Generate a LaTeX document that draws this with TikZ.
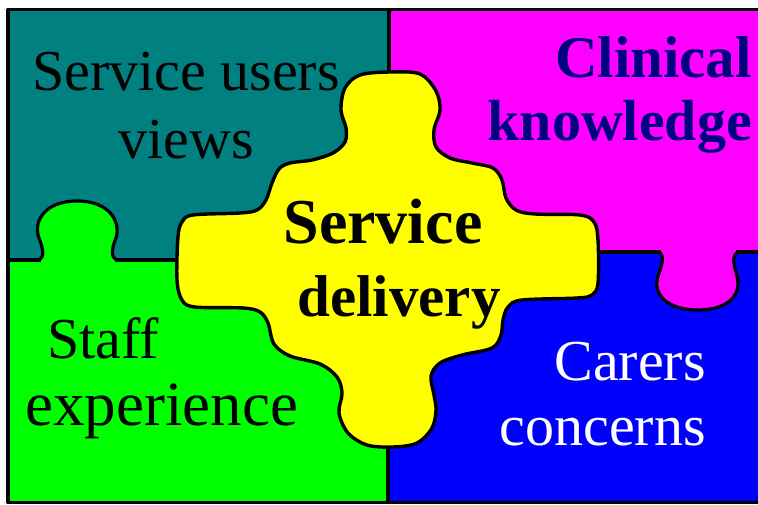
\documentclass[tikz,border=0pt]{standalone}
\usepackage{fontspec}
\setmainfont{Liberation Serif}
\definecolor{tealc}{RGB}{0,128,128}
\definecolor{magc}{RGB}{255,0,255}
\definecolor{grnc}{RGB}{0,255,0}
\definecolor{bluc}{RGB}{0,0,255}
\definecolor{yelc}{RGB}{255,255,0}
\definecolor{navyc}{RGB}{0,0,128}
\begin{document}
\begin{tikzpicture}[x=1pt,y=-1pt,line join=round,
  edge/.style={draw=black,line width=3.2pt},
  piecetext/.style={inner sep=0pt,font=\fontsize{58}{66}\selectfont},
  boldtext/.style={inner sep=0pt,font=\fontsize{59}{66}\selectfont\bfseries}]
\clip (0,0) rectangle (758,504);
\fill[white] (0,0) rectangle (758,504);
% four quarter pieces
\fill[tealc] (8,9.5) rectangle (389,260);
\fill[magc] (389,9.5) rectangle (760,252);
\fill[grnc] (8,260) rectangle (388,502.5);
\fill[bluc] (388,252) rectangle (760,502.5);
% dividers
\draw[edge] (389,9.5) -- (389,255);
\draw[edge] (388,255) -- (388,502.5);
\draw[edge] (8,260) -- (41,260);
\draw[edge] (115,260) -- (389,260);
\draw[edge] (388,252) -- (661,252);
\draw[edge] (736,252) -- (760,252);
% green tab into teal
\fill[grnc] (41,261) .. controls (45,257) and (43,248) .. (39,238)
  .. controls (33,222) and (44,201) .. (77,201)
  .. controls (110,201) and (121,222) .. (116,238)
  .. controls (112,248) and (110,257) .. (115,261) -- (115,263) -- (41,263) -- cycle;
\draw[edge] (39,260) .. controls (45,257) and (43,248) .. (39,238)
  .. controls (33,222) and (44,201) .. (77,201)
  .. controls (110,201) and (121,222) .. (116,238)
  .. controls (112,248) and (110,257) .. (117,260);
% magenta tab into blue
\fill[magc] (661,251) .. controls (665,256) and (662,265) .. (658,276)
  .. controls (652,295) and (668,310) .. (698,310)
  .. controls (728,310) and (742,295) .. (737,276)
  .. controls (734,265) and (731,256) .. (736,251) -- (736,248) -- (661,248) -- cycle;
\draw[edge] (659,252) .. controls (665,256) and (662,265) .. (658,276)
  .. controls (652,295) and (668,310) .. (698,310)
  .. controls (728,310) and (742,295) .. (737,276)
  .. controls (734,265) and (731,256) .. (738,252);
% outer frame
\draw[edge] (760,9.5) -- (8,9.5) -- (8,502.5) -- (760,502.5);
% yellow centre piece
\filldraw[fill=yelc,draw=black,line width=3.4pt] plot[smooth cycle,tension=0.55] coordinates {
 (390,72) (420,74) (436,91) (440,110) (434,130) (436,147) (450,158) (472,163)
 (493,168) (502,180) (506,198) (516,210) (535,214) (580,215) (594,222) (598,240)
 (598,283) (592,295) (577,298) (522,300) (508,307) (503,320) (501,335) (492,348)
 (462,355) (440,363) (431,376) (434,395) (436,410) (432,428) (417,443) (393,447)
 (367,445) (348,433) (339,413) (342,393) (337,377) (320,364) (290,356) (274,344)
 (268,323) (260,312) (243,308) (195,307) (182,300) (177,280) (178,237) (182,222)
 (193,215) (240,213) (257,210) (266,200) (272,183) (279,169) (290,163) (312,160)
 (333,153) (345,142) (346,128) (341,110) (345,88) (360,75)};
% texts
\node[piecetext,anchor=base] (su1) at (186,90) {Service users};
\node[piecetext,anchor=base] (su2) at (186,158) {views};
\node[boldtext,anchor=base east,text=navyc] (ck1) at (752,77) {Clinical};
\node[boldtext,anchor=base east,text=navyc,font=\fontsize{58}{66}\selectfont\bfseries] (ck2) at (752,140) {knowledge};
\node[boldtext,anchor=base,font=\fontsize{64}{70}\selectfont\bfseries] (sd1) at (383,243) {Service};
\node[boldtext,anchor=base] (sd2) at (399,316) {delivery};
\node[piecetext,anchor=base west] (se1) at (47,358) {Staff};
\node[piecetext,anchor=base west,font=\fontsize{63}{70}\selectfont] (se2) at (25,425) {experience};
\node[piecetext,anchor=base east,text=white] (cc1) at (706,380) {Carers};
\node[piecetext,anchor=base east,text=white] (cc2) at (706,445) {concerns};
\end{tikzpicture}
\end{document}
